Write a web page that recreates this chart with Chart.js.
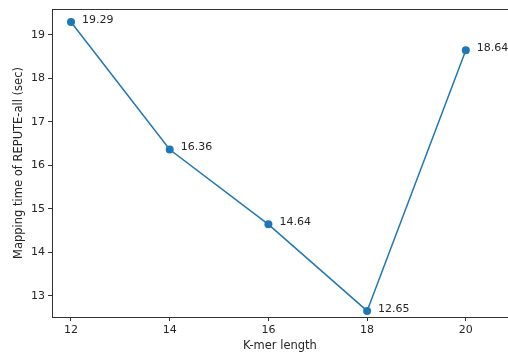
<!DOCTYPE html>
<html>
<head>
<meta charset="utf-8">
<script src="https://cdn.jsdelivr.net/npm/chart.js@4"></script>
<style>
  html, body { margin: 0; padding: 0; background: #fff; }
  #wrap { width: 508px; height: 356px; }
</style>
</head>
<body>
<div id="wrap"><canvas id="chart"></canvas></div>
<script>
// data
const kmerLengths = [12, 14, 16, 18, 20];
const mappingTimes = [19.29, 16.36, 14.64, 12.65, 18.64];
const xTicks = [12, 14, 16, 18, 20];
const yTicks = [13, 14, 15, 16, 17, 18, 19];

const lineColor = '#1f77b4';
const textColor = '#262626';
const font = "'DejaVu Sans', sans-serif";

// value labels next to each point + top spine
const extras = {
    id: 'extras',
    afterDatasetsDraw(chart) {
        const ctx = chart.ctx;
        const area = chart.chartArea;
        ctx.save();
        ctx.strokeStyle = '#333';
        ctx.lineWidth = 1;
        ctx.beginPath();
        ctx.moveTo(area.left, area.top + 0.5);
        ctx.lineTo(area.right, area.top + 0.5);
        ctx.stroke();

        const meta = chart.getDatasetMeta(0);
        ctx.fillStyle = textColor;
        ctx.font = '11px ' + font;
        ctx.textAlign = 'left';
        ctx.textBaseline = 'middle';
        meta.data.forEach((pt, i) => {
            ctx.fillText(mappingTimes[i].toFixed(2), pt.x + 11, pt.y - 2);
        });
        ctx.restore();
    }
};

new Chart(document.getElementById('chart'), {
    type: 'line',
    data: {
        datasets: [{
            data: kmerLengths.map((k, i) => ({ x: k, y: mappingTimes[i] })),
            borderColor: lineColor,
            backgroundColor: lineColor,
            borderWidth: 1.5,
            pointRadius: 4,
            pointBorderWidth: 0,
            pointBackgroundColor: lineColor,
            tension: 0
        }]
    },
    options: {
        responsive: true,
        maintainAspectRatio: false,
        animation: false,
        layout: { autoPadding: false, padding: { top: 9, right: 0, left: 0, bottom: 0 } },
        plugins: {
            legend: { display: false },
            tooltip: { enabled: false }
        },
        scales: {
            x: {
                type: 'linear',
                min: 11.615,
                max: 20.855,
                afterBuildTicks: (scale) => { scale.ticks = xTicks.map(v => ({ value: v })); },
                afterFit: (scale) => {
                    scale.height = 39;
                    scale.paddingLeft = 0;
                    scale.paddingRight = 0;
                },
                grid: { drawOnChartArea: false, drawTicks: true, tickLength: 4, tickColor: '#333' },
                border: { display: true, color: '#333', width: 1 },
                ticks: { color: textColor, font: { family: font, size: 11 }, padding: 3, maxRotation: 0 },
                title: { display: true, text: 'K-mer length', color: textColor, font: { family: font, size: 11.5 }, padding: { top: 2, bottom: 3 } }
            },
            y: {
                type: 'linear',
                min: 12.51,
                max: 19.59,
                afterBuildTicks: (scale) => { scale.ticks = yTicks.map(v => ({ value: v })); },
                afterFit: (scale) => {
                    scale.width = 52;
                    scale.paddingTop = 0;
                    scale.paddingBottom = 0;
                },
                grid: { drawOnChartArea: false, drawTicks: true, tickLength: 4, tickColor: '#333' },
                border: { display: true, color: '#333', width: 1 },
                ticks: { color: textColor, font: { family: font, size: 11 }, padding: 3 },
                title: { display: true, text: 'Mapping time of REPUTE-all (sec)', color: textColor, font: { family: font, size: 11.5 }, padding: { top: 12, bottom: 4 } }
            }
        }
    },
    plugins: [extras]
});
</script>
</body>
</html>
